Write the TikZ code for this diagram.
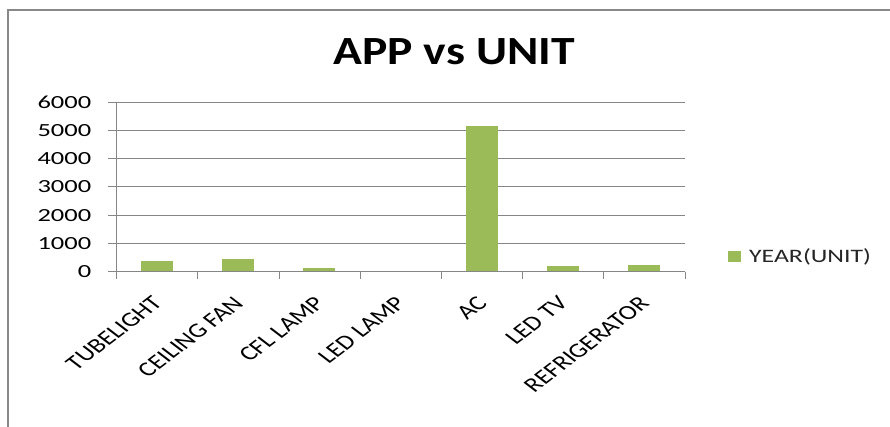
\documentclass[tikz,border=0pt]{standalone}
\usepackage{fontspec}
\setmainfont{Carlito}
\definecolor{bargreen}{HTML}{9BBB59}
\definecolor{gridgray}{HTML}{868686}
\definecolor{framegray}{HTML}{888888}
\tikzset{
  gridline/.style={draw=gridgray, line width=1pt},
  axisline/.style={draw=gridgray, line width=1pt},
  bar/.style={fill=bargreen},
  ylab/.style={font=\fontsize{18.5}{18.5}\selectfont, xscale=1.43, anchor=east, inner sep=0pt, text=black},
  catlab/.style={font=\fontsize{20.5}{20.5}\selectfont, xscale=1.31, rotate=45, anchor=north east, inner sep=0pt, text=black},
  leglab/.style={font=\fontsize{19}{19}\selectfont, xscale=1.36, anchor=west, inner sep=0pt, text=black!85},
  titlelab/.style={font=\bfseries\fontsize{40}{40}\selectfont, xscale=1.19, anchor=base, inner sep=0pt, text=black}
}
\begin{document}
\begin{tikzpicture}[x=1pt,y=-1pt]
\useasboundingbox (0,0) rectangle (890,427);
\clip (0,0) rectangle (890,427);
\fill[white] (0,0) rectangle (890,427);
% outer frame
\draw[framegray, line width=2pt] (8.3,10.3) rectangle (900,440);
% title
\node[titlelab] (title) at (454.2,64.3) {APP vs UNIT};
% gridlines and y labels
\foreach \v/\t in {0/0,1/1000,2/2000,3/3000,4/4000,5/5000,6/6000}{
  \draw[gridline] (108.3,{271.7-28.28*\v}) -- (685,{271.7-28.28*\v});
  \node[ylab] (y\v) at (91.5,{271.7-28.28*\v}) {\t};
}
% bars
\foreach \i/\val in {0/390,1/460,2/130,4/5170,5/200,6/250}{
  \fill[bargreen] ({140.7+81.2*\i},271.7) rectangle ({172.7+81.2*\i},{271.7-0.02828*\val});
}
% axes
\draw[axisline] (116.7,102) -- (116.7,279.3);
\draw[axisline] (108.3,271.7) -- (685,271.7);
\foreach \i in {1,...,7}{
  \draw[axisline] ({116.7+81.2*\i},271.7) -- ({116.7+81.2*\i},279.3);
}
% category labels
\foreach \i/\t in {0/TUBELIGHT,1/CEILING FAN,2/CFL LAMP,3/LED LAMP,4/AC,5/LED TV,6/REFRIGERATOR}{
  \node[catlab] (c\i) at ({151+81.2*\i},295) {\t};
}
% legend
\fill[bargreen] (728.3,250.7) rectangle (740.7,262.3);
\node[leglab] (leg) at (748.8,256.5) {YEAR(UNIT)};
\end{tikzpicture}
\end{document}
